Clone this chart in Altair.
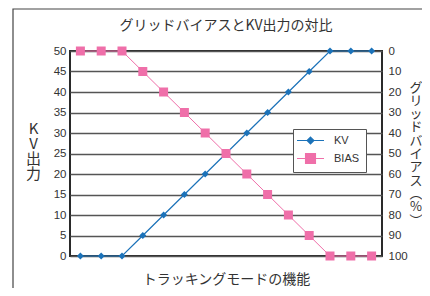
import altair as alt
import pandas as pd

# ---- data ----
steps = list(range(15))
kv = [0, 0, 0, 5, 10, 15, 20, 25, 30, 35, 40, 45, 50, 50, 50]
bias = [0, 0, 0, 10, 20, 30, 40, 50, 60, 70, 80, 90, 100, 100, 100]
series = ["KV", "BIAS"]

title_text = "グリッドバイアスとKV出力の対比"
x_title = "トラッキングモードの機能"
left_title = ["K", "V", "出", "力"]
right_title = ["グ", "リ", "ッ", "ド", "バ", "イ", "ア", "ス", "︵", "%", "︶"]

BLUE = "#1b72b9"
PINK = "#ef6fa9"
CJK = "Noto Sans CJK JP"
LAT = "Liberation Sans"

df = pd.DataFrame({"step": steps, "kv": kv, "bias": bias})
leg_df = pd.DataFrame({"series": series})

xenc = alt.X("step:Q", scale=alt.Scale(domain=[-0.5, 14.5], nice=False, zero=False),
             axis=alt.Axis(labels=False, ticks=False, domain=False, grid=False,
                           title=x_title, titleFont=CJK, titleFontSize=14,
                           titleFontWeight="normal", titleColor="#333",
                           titleY=23, titleBaseline="middle"))

left_axis = alt.Axis(values=list(range(0, 51, 5)), grid=True, gridColor="#555",
                     gridWidth=1.5, ticks=False, domain=False, labelPadding=4,
                     title=left_title, titleAngle=0, titleX=-37, titleY=77,
                     titleAlign="center", titleBaseline="middle", titleLineHeight=15,
                     titleFont=CJK, titleFontSize=15, titleFontWeight="normal",
                     titleColor="#333", orient="left")
right_axis = alt.Axis(values=list(range(0, 101, 10)), grid=False, ticks=False,
                      domain=False, labelPadding=6, title=right_title, titleAngle=0,
                      titleX=33.5, titleY=36, titleAlign="center", titleBaseline="middle",
                      titleLineHeight=13.3, titleFont=CJK, titleFontSize=13,
                      titleFontWeight="normal", titleColor="#333", orient="right")

base = alt.Chart(df)
kv_y = alt.Y("kv:Q", scale=alt.Scale(domain=[0, 50], nice=False), axis=left_axis)
kv_layer = alt.layer(
    base.mark_line(color=BLUE, strokeWidth=1.2).encode(x=xenc, y=kv_y),
    base.mark_point(shape="diamond", filled=True, size=49, color=BLUE, opacity=1).encode(x=xenc, y=kv_y),
)

b_y = alt.Y("bias:Q", scale=alt.Scale(domain=[0, 100], reverse=True, nice=False), axis=right_axis)
bias_layer = alt.layer(
    base.mark_line(color=PINK, strokeWidth=1).encode(x=xenc, y=b_y),
    base.mark_point(shape="square", filled=True, size=81, color=PINK, opacity=1).encode(x=xenc, y=b_y),
)

kv_sym = "M-3,0H3M0,-0.75L0.75,0L0,0.75L-0.75,0Z"
bias_sym = "M-3,0H3M-1.1,-1.1H1.1V1.1H-1.1Z"
legend_layer = alt.Chart(leg_df).transform_filter("false").mark_point(
    filled=True, size=81, opacity=1, strokeWidth=1.2
).encode(
    fill=alt.Fill("series:N", scale=alt.Scale(domain=series, range=[BLUE, PINK]), legend=alt.Legend(title=None)),
    stroke=alt.Stroke("series:N", scale=alt.Scale(domain=series, range=[BLUE, PINK]), legend=alt.Legend(title=None)),
    shape=alt.Shape("series:N", scale=alt.Scale(domain=series, range=[kv_sym, bias_sym]), legend=alt.Legend(title=None)),
)

frame = alt.Chart(pd.DataFrame({"a": [0]})).mark_rect(
    fill="transparent", stroke="#444", strokeWidth=1.2
).encode(x=alt.value(-57), x2=alt.value(420), y=alt.value(-42), y2=alt.value(300))

chart = alt.layer(frame, kv_layer, bias_layer, legend_layer).resolve_scale(
    y="independent"
).properties(
    width=312, height=205,
    title=alt.TitleParams(title_text, font=CJK, fontSize=14, fontWeight="normal",
                          color="#333", anchor="middle", frame="group", offset=-36,
                          baseline="alphabetic"),
    autosize=alt.AutoSizeParams(type="none"),
    padding={"left": 62, "top": 43, "right": 40, "bottom": 32},
).configure_view(
    fill="#d2d3d4", stroke="#2a2a2a", strokeWidth=2
).configure_axis(
    labelFont=LAT, labelFontSize=11.5, labelColor="#333"
).configure_legend(
    orient="none", legendX=223, legendY=78, fillColor="white", strokeColor="#555",
    padding=6, symbolOffset=6, labelOffset=18, rowPadding=4, symbolSize=81,
    symbolStrokeWidth=1.2, labelFont=LAT, labelFontSize=11, labelColor="#333",
    cornerRadius=0,
)

chart.save("out.html", embed_options={"renderer": "svg", "actions": False})
